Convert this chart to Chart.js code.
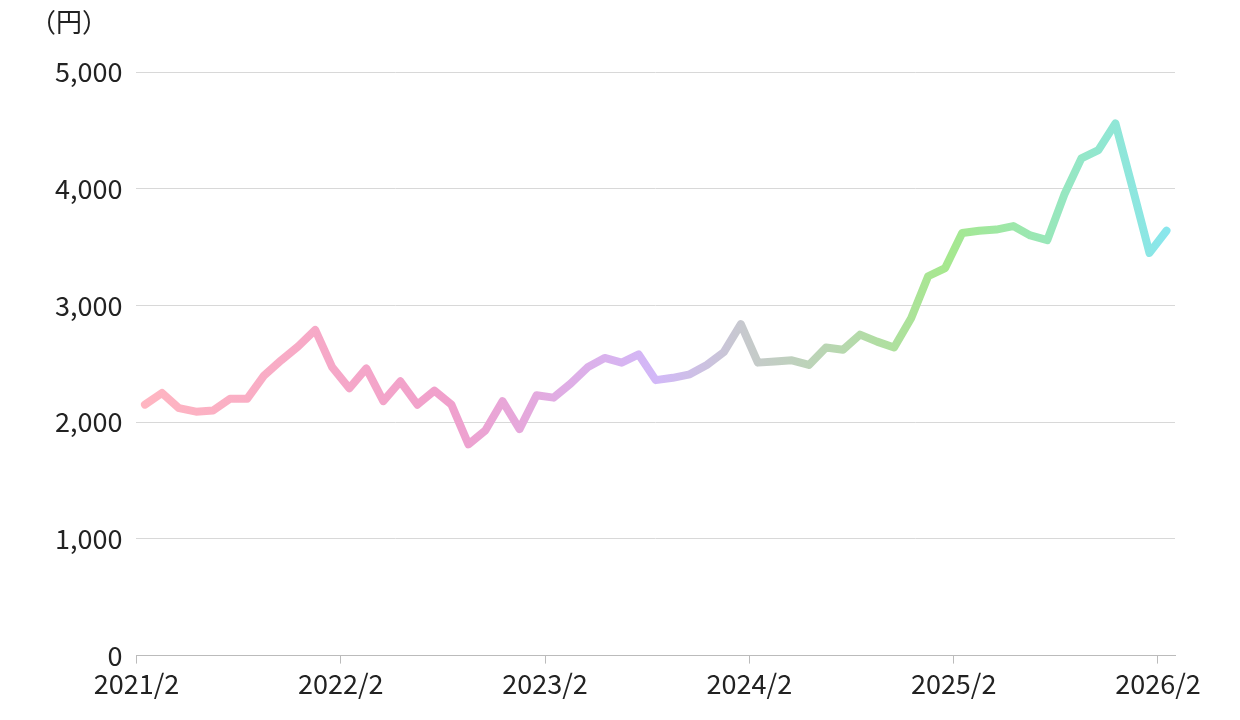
<!DOCTYPE html>
<html><head><meta charset="utf-8">
<script src="https://cdn.jsdelivr.net/npm/chart.js@4"></script>
<style>body{margin:0;background:#fff}#w{width:1240px;height:720px;position:relative}
#u{position:absolute;left:30px;top:2px;font:26px "Noto Sans CJK JP";color:#222}</style></head>
<body><div id="w"><canvas id="c" width="1240" height="720"></canvas><div id="u">（円）</div></div>
<script>
const tickLabels=["2021/2","2022/2","2023/2","2024/2","2025/2","2026/2"];
const values=[2150,2250,2120,2090,2100,2200,2200,2400,2530,2650,2790,2470,2290,2460,2180,2350,2150,2270,2150,1810,1930,2180,1940,2230,2210,2330,2470,2550,2510,2580,2360,2380,2410,2490,2600,2840,2510,2520,2530,2490,2640,2620,2750,2690,2640,2890,3250,3320,3620,3640,3650,3680,3600,3560,3950,4260,4330,4560,4010,3450,3640];
const pts=values.map((v,i)=>({x:i+0.5,y:v}));
new Chart(document.getElementById('c'),{type:'line',
data:{datasets:[{data:pts,borderWidth:8,pointRadius:0,tension:0,borderJoinStyle:'round',borderCapStyle:'round',
borderColor:(ctx)=>{const a=ctx.chart.chartArea;if(!a)return '#f9b';const g=ctx.chart.ctx.createLinearGradient(a.left,0,a.right,0);
g.addColorStop(0,'#ffb6c1');g.addColorStop(0.3,'#f0a0cc');g.addColorStop(0.5,'#d2b8f8');g.addColorStop(0.59,'#c6cacb');g.addColorStop(0.78,'#a6e88e');g.addColorStop(1,'#88e6f0');return g;}}]},
options:{responsive:false,animation:false,layout:{padding:{left:41,right:65,top:72,bottom:16}},
plugins:{legend:{display:false},tooltip:{enabled:false}},
scales:{x:{type:'linear',min:0,max:61,afterBuildTicks:s=>{s.ticks=[0,12,24,36,48,60].map(v=>({value:v}));},
ticks:{callback:(v)=>tickLabels[v/12],font:{size:27,family:'Noto Sans CJK JP'},color:'#222',maxRotation:0,padding:4},
grid:{display:true,drawOnChartArea:false,tickLength:8,color:'#bbb'},border:{color:'#bbb'}},
y:{min:0,max:5000,ticks:{stepSize:1000,font:{size:27,family:'Noto Sans CJK JP'},color:'#222',padding:14,callback:v=>v.toLocaleString('en-US')},
grid:{color:'#d8d8d8',drawTicks:false},border:{display:false}}}}});
</script></body></html>
